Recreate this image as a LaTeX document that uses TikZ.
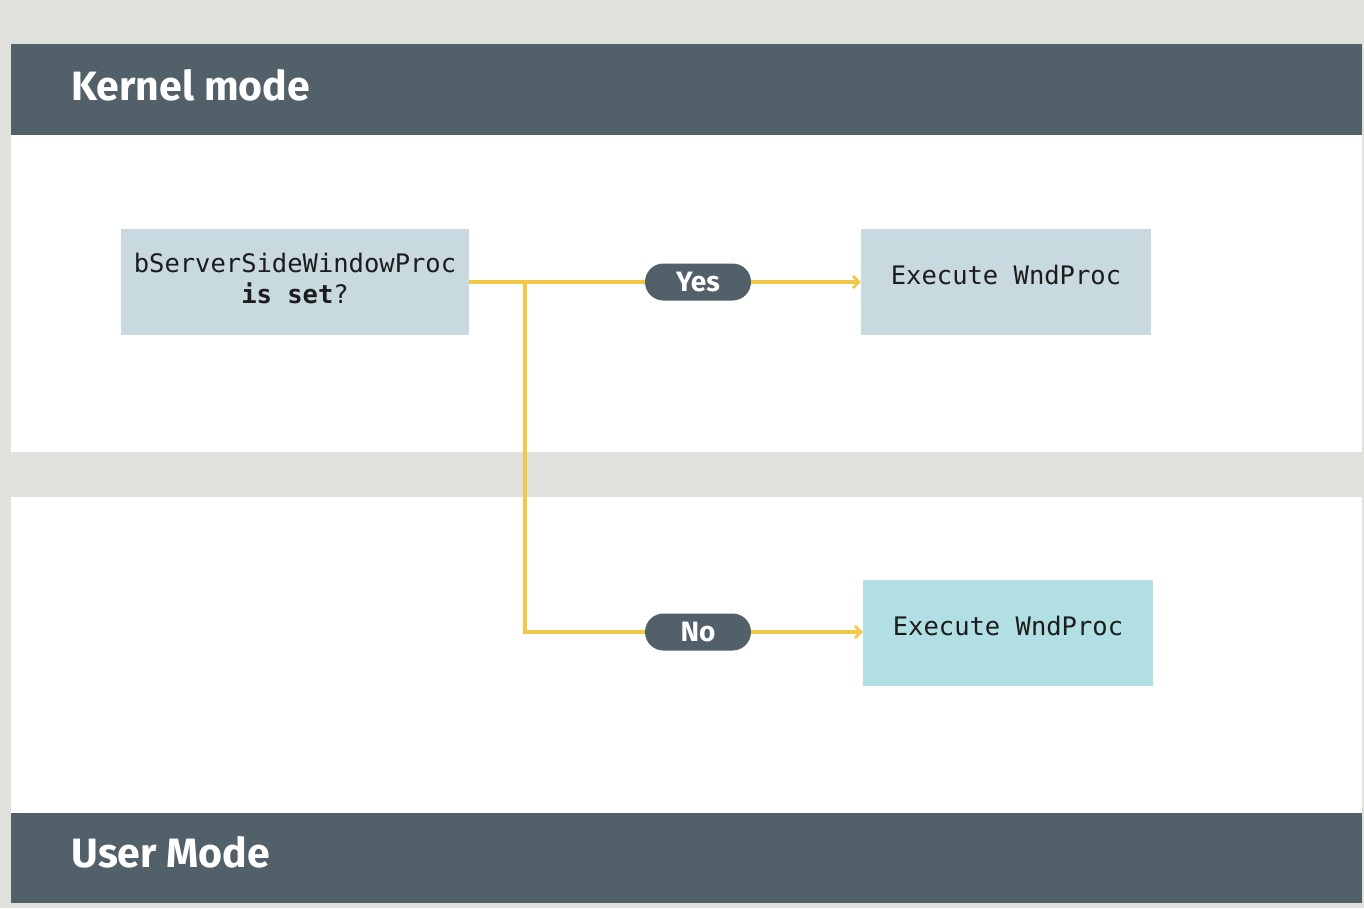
\documentclass[tikz,border=0pt]{standalone}
\usepackage{fontspec}
\setmainfont{Fira Sans}
\setmonofont{DejaVu Sans Mono}
\usetikzlibrary{arrows.meta}
\definecolor{bgc}{HTML}{E0E0DD}
\definecolor{hdr}{HTML}{526069}
\definecolor{boxc}{HTML}{C9D9E0}
\definecolor{cyanc}{HTML}{B1DFE3}
\definecolor{yel}{HTML}{F0C846}
\definecolor{txt}{HTML}{1C1C1C}
\begin{document}
\begin{tikzpicture}[x=1pt,y=-1pt,
  hdrtext/.style={anchor=base west,text=white,font=\fontsize{41}{48}\selectfont\bfseries},
  procbox/.style={minimum width=290pt,minimum height=106pt,inner sep=0pt,text=txt,
     font=\fontsize{25.5}{31}\selectfont\ttfamily,align=center},
  pill/.style={fill=hdr,rounded corners=18.5pt,minimum width=106pt,minimum height=37pt,
     inner sep=0pt,text=white,font=\fontsize{28}{32}\selectfont\bfseries},
  flow/.style={draw=yel,line width=3.2pt},
  flowarrow/.style={flow,-{Straight Barb[length=6pt,width=12pt,line width=2.6pt]}}]
\fill[bgc] (0,0) rectangle (1364,908);
\useasboundingbox (0,0) rectangle (1364,908);
\fill[hdr] (11,44) rectangle (1362,135);
\fill[white] (11,135) rectangle (1362,452);
\fill[white] (11,497) rectangle (1362,813);
\fill[hdr] (11,813) rectangle (1362,903);
\node[hdrtext] (kt) at (68,100) {Kernel mode};
\node[hdrtext] (ut) at (68,867) {User Mode};
\node[procbox,fill=boxc,minimum width=348pt,text depth=8pt] (dec) at (295,282)
  {bServerSideWindowProc\\\textbf{is set}?};
\node[procbox,fill=boxc,text depth=14pt] (ex1) at (1006,282) {Execute WndProc};
\node[procbox,fill=cyanc,text depth=14pt] (ex2) at (1008,633) {Execute WndProc};
\node[pill] (yes) at (698,282) {Yes};
\node[pill] (no) at (698,632) {No};
\coordinate (j) at (525,282);
\draw[flow] (dec.east) -- (yes.west);
\draw[flow] (j) |- (no.west);
\draw[flowarrow] (yes.east) -- (ex1.west |- yes.east);
\draw[flowarrow] (no.east) -- (ex2.west |- no.east);
\end{tikzpicture}
\end{document}
